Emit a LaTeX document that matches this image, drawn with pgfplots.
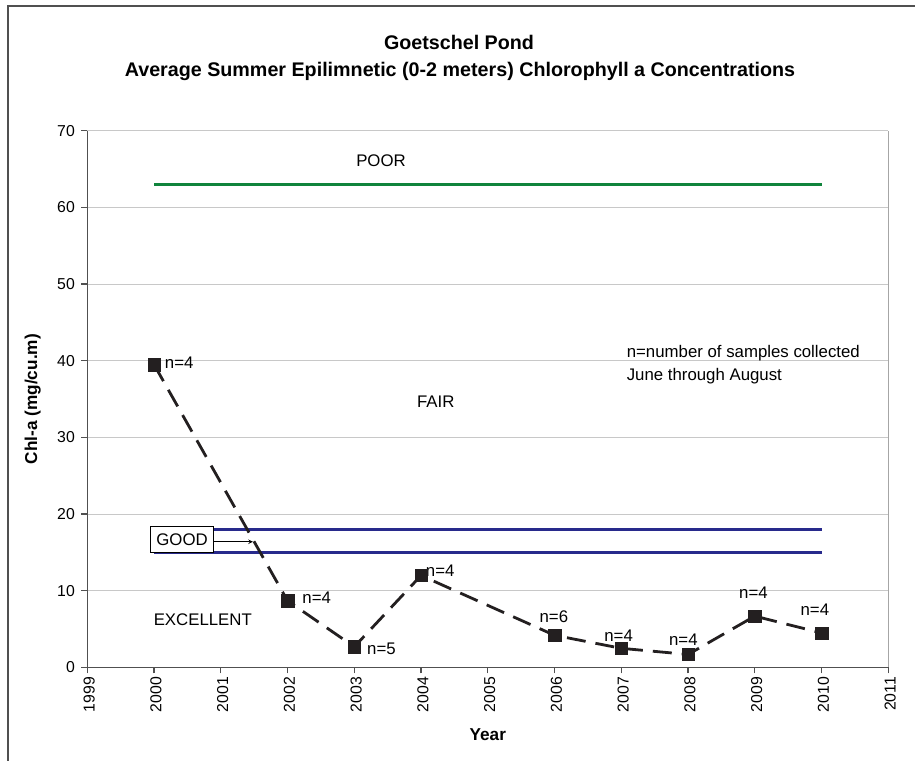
\documentclass[border=0pt]{standalone}
\usepackage{fontspec}
\setmainfont{Liberation Sans}
\usepackage{pgfplots}
\pgfplotsset{compat=1.18}

\definecolor{poorgreen}{RGB}{16,132,60}
\definecolor{goodblue}{RGB}{40,42,140}
\definecolor{gridgray}{RGB}{200,200,200}
\definecolor{axisgray}{RGB}{80,80,80}
\definecolor{markblack}{RGB}{35,31,32}

\newcommand{\tickfont}{\fontsize{15.8bp}{18bp}\selectfont}
\newcommand{\annfont}{\fontsize{16.8bp}{20bp}\selectfont}
\newcommand{\labfont}{\fontsize{17.2bp}{20bp}\selectfont\bfseries}
\newcommand{\titlefont}{\fontsize{19.7bp}{23bp}\selectfont\bfseries}

\begin{document}
\begin{tikzpicture}
\useasboundingbox (0,0) rectangle (915bp,761bp);
\fill[white] (0,0) rectangle (915bp,761bp);
% chart frame (cut off at right and bottom)
\draw[axisgray, line width=2bp] (8.3bp,0) -- (8.3bp,755.3bp) -- (915bp,755.3bp);

\begin{axis}[
  scale only axis,
  width=801bp, height=536.8bp,
  at={(87.3bp,93.5bp)}, anchor=south west,
  xmin=1999, xmax=2011,
  ymin=0, ymax=70,
  xtick={1999,...,2011},
  ytick={0,10,...,70},
  axis x line*=bottom,
  axis y line*=left,
  axis line style={axisgray, line width=1.3bp},
  tick style={axisgray, line width=1.3bp},
  tick align=outside,
  major tick length=6bp,
  ymajorgrids,
  grid style={gridgray, line width=1bp},
  /pgf/number format/1000 sep={},
  /pgf/number format/assume math mode=true,
  xticklabel style={font=\tickfont, rotate=90, anchor=east, yshift=-2bp},
  yticklabel style={font=\tickfont, xshift=-3bp},
  xlabel={Year},
  ylabel={Chl-a (mg/cu.m)},
  xlabel style={font=\labfont, at={(axis description cs:0.5,-0.1257)}, anchor=center},
  ylabel style={font=\labfont, at={(axis description cs:-0.068,0.5)}, anchor=center},
  clip=false,
]
\draw[gray!70, line width=1bp] (rel axis cs:1,0) -- (rel axis cs:1,1);

% trophic class boundaries
\addplot[poorgreen, line width=3.5bp] coordinates {(2000,63) (2010,63)};
\addplot[goodblue, line width=3.2bp] coordinates {(2000,18) (2010,18)};
\addplot[goodblue, line width=3.2bp] coordinates {(2000,15) (2010,15)};

% average summer chl-a
\addplot[markblack, line width=2.8bp, dash pattern=on 19bp off 10bp,
  mark=square*, mark size=6.2bp,
  mark options={solid, fill=markblack, line width=0.5bp}]
  coordinates {
  (2000,39.5) (2002,8.7) (2003,2.7) (2004,12.0) (2006,4.2)
  (2007,2.5) (2008,1.7) (2009,6.7) (2010,4.5)
  };

% sample counts
\node[font=\annfont, anchor=west, inner sep=0] at (axis cs:2000.16,39.7) {n=4};
\node[font=\annfont, anchor=west, inner sep=0] at (axis cs:2002.22,9.1) {n=4};
\node[font=\annfont, anchor=west, inner sep=0] at (axis cs:2003.19,2.4) {n=5};
\node[font=\annfont, anchor=west, inner sep=0] at (axis cs:2004.07,12.6) {n=4};
\node[font=\annfont] at (axis cs:2005.99,6.6) {n=6};
\node[font=\annfont] at (axis cs:2006.96,4.2) {n=4};
\node[font=\annfont] at (axis cs:2007.93,3.6) {n=4};
\node[font=\annfont] at (axis cs:2008.98,9.7) {n=4};
\node[font=\annfont] at (axis cs:2009.90,7.5) {n=4};

% class names
\node[font=\annfont] at (axis cs:2003.40,66.1) {POOR};
\node[font=\annfont] at (axis cs:2004.22,34.6) {FAIR};
\node[font=\annfont] at (axis cs:2000.73,6.2) {EXCELLENT};
\node[draw=black, fill=white, line width=0.8bp, minimum width=62.6bp,
  minimum height=26bp, inner sep=0, font=\annfont] at (axis cs:2000.42,16.7) {GOOD};
\draw[->, >=stealth, line width=1bp] (axis cs:2000.89,16.4) -- (axis cs:2001.48,16.4);

\node[font=\annfont, anchor=west, inner sep=0] at (axis cs:2007.08,41.0) {n=number of samples collected};
\node[font=\annfont, anchor=west, inner sep=0] at (axis cs:2007.08,38.0) {June through August};
\end{axis}

\node[font=\titlefont, anchor=base] at (459bp,711bp) {Goetschel Pond};
\node[font=\titlefont, anchor=base] at (460bp,684bp) {Average Summer Epilimnetic (0-2 meters) Chlorophyll a Concentrations};
\end{tikzpicture}
\end{document}
